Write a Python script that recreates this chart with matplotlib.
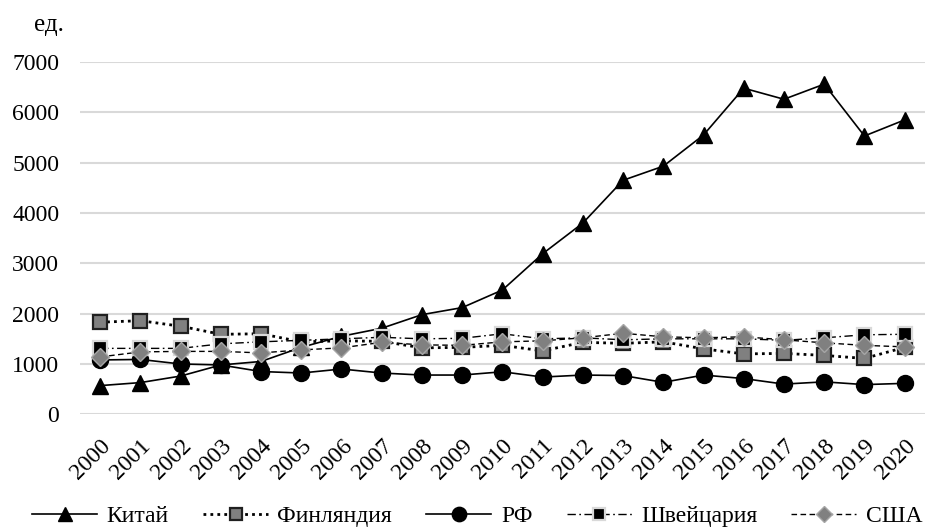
import matplotlib
matplotlib.use("Agg")
import matplotlib.pyplot as plt

plt.rcParams['font.family'] = ['Liberation Serif', 'DejaVu Serif']

years = [str(y) for y in range(2000, 2021)]

china = [570, 630, 760, 980, 1050, 1330, 1550, 1710, 1980, 2120, 2470,
         3190, 3800, 4650, 4930, 5550, 6480, 6260, 6560, 5530, 5850]
finland = [1830, 1860, 1750, 1590, 1600, 1440, 1460, 1450, 1320, 1330, 1370,
           1260, 1430, 1410, 1440, 1300, 1200, 1210, 1170, 1110, 1330]
rf = [1080, 1090, 1000, 980, 850, 820, 900, 820, 780, 780, 845,
      740, 780, 770, 635, 780, 710, 600, 645, 590, 615]
switzerland = [1310, 1310, 1310, 1400, 1440, 1470, 1500, 1530, 1500, 1510, 1600,
               1500, 1520, 1480, 1500, 1500, 1500, 1470, 1520, 1580, 1590]
usa = [1140, 1240, 1250, 1250, 1220, 1280, 1320, 1430, 1380, 1370, 1440,
       1460, 1520, 1610, 1540, 1520, 1540, 1480, 1420, 1370, 1340]

labels = ["Китай", "Финляндия", "РФ", "Швейцария", "США"]
yticks = [0, 1000, 2000, 3000, 4000, 5000, 6000, 7000]

fig = plt.figure(figsize=(9.36, 5.30), dpi=100)
ax = fig.add_axes([0.0855, 0.2183, 0.9025, 0.6647])

x = range(len(years))
styles = [
    dict(color='black', lw=1.2, ls='-', marker='^', ms=11,
         mfc='black', mec='black', mew=1.0),
    dict(color='black', lw=2.0, ls=(0, (1, 1.5)), marker='s', ms=10,
         mfc='#808080', mec='#202020', mew=1.6),
    dict(color='black', lw=1.2, ls='-', marker='o', ms=11.5,
         mfc='black', mec='black', mew=1.0),
    dict(color='black', lw=1.0, ls=(0, (6, 2.5, 1.2, 2.5)), marker='s', ms=10,
         mfc='black', mec='#d9d9d9', mew=1.6),
    dict(color='black', lw=1.0, ls=(0, (4, 2.5)), marker='D', ms=9,
         mfc='#808080', mec='#a6a6a6', mew=1.0),
]
series = [china, finland, rf, switzerland, usa]

handles = []
for lab, d, st in zip(labels, series, styles):
    line, = ax.plot(x, d, label=lab, **st)
    handles.append(line)

ax.set_xlim(-0.5, len(years) - 0.5)
ax.set_ylim(0, 7000)
ax.set_yticks(yticks)
ax.set_yticklabels([str(v) for v in yticks], fontsize=17)
ax.set_xticks(list(x))
ax.set_xticklabels(years, fontsize=17, rotation=45, ha='right', rotation_mode='anchor')
ax.tick_params(axis='both', length=0)
ax.tick_params(axis='y', pad=15)
ax.tick_params(axis='x', pad=15)
ax.grid(axis='y', color='#d9d9d9', lw=1.5)
ax.set_axisbelow(True)
for s in ax.spines.values():
    s.set_visible(False)

fig.text(0.052, 0.952, "ед.", fontsize=18, ha='center', va='center')

fig.legend(handles=handles, labels=labels, loc='lower center', bbox_to_anchor=(0.51, -0.035),
           ncol=5, frameon=False, fontsize=17, handlelength=2.75, handletextpad=0.4,
           columnspacing=1.45, markerscale=0.9)

fig.savefig("out.png", dpi=100)
